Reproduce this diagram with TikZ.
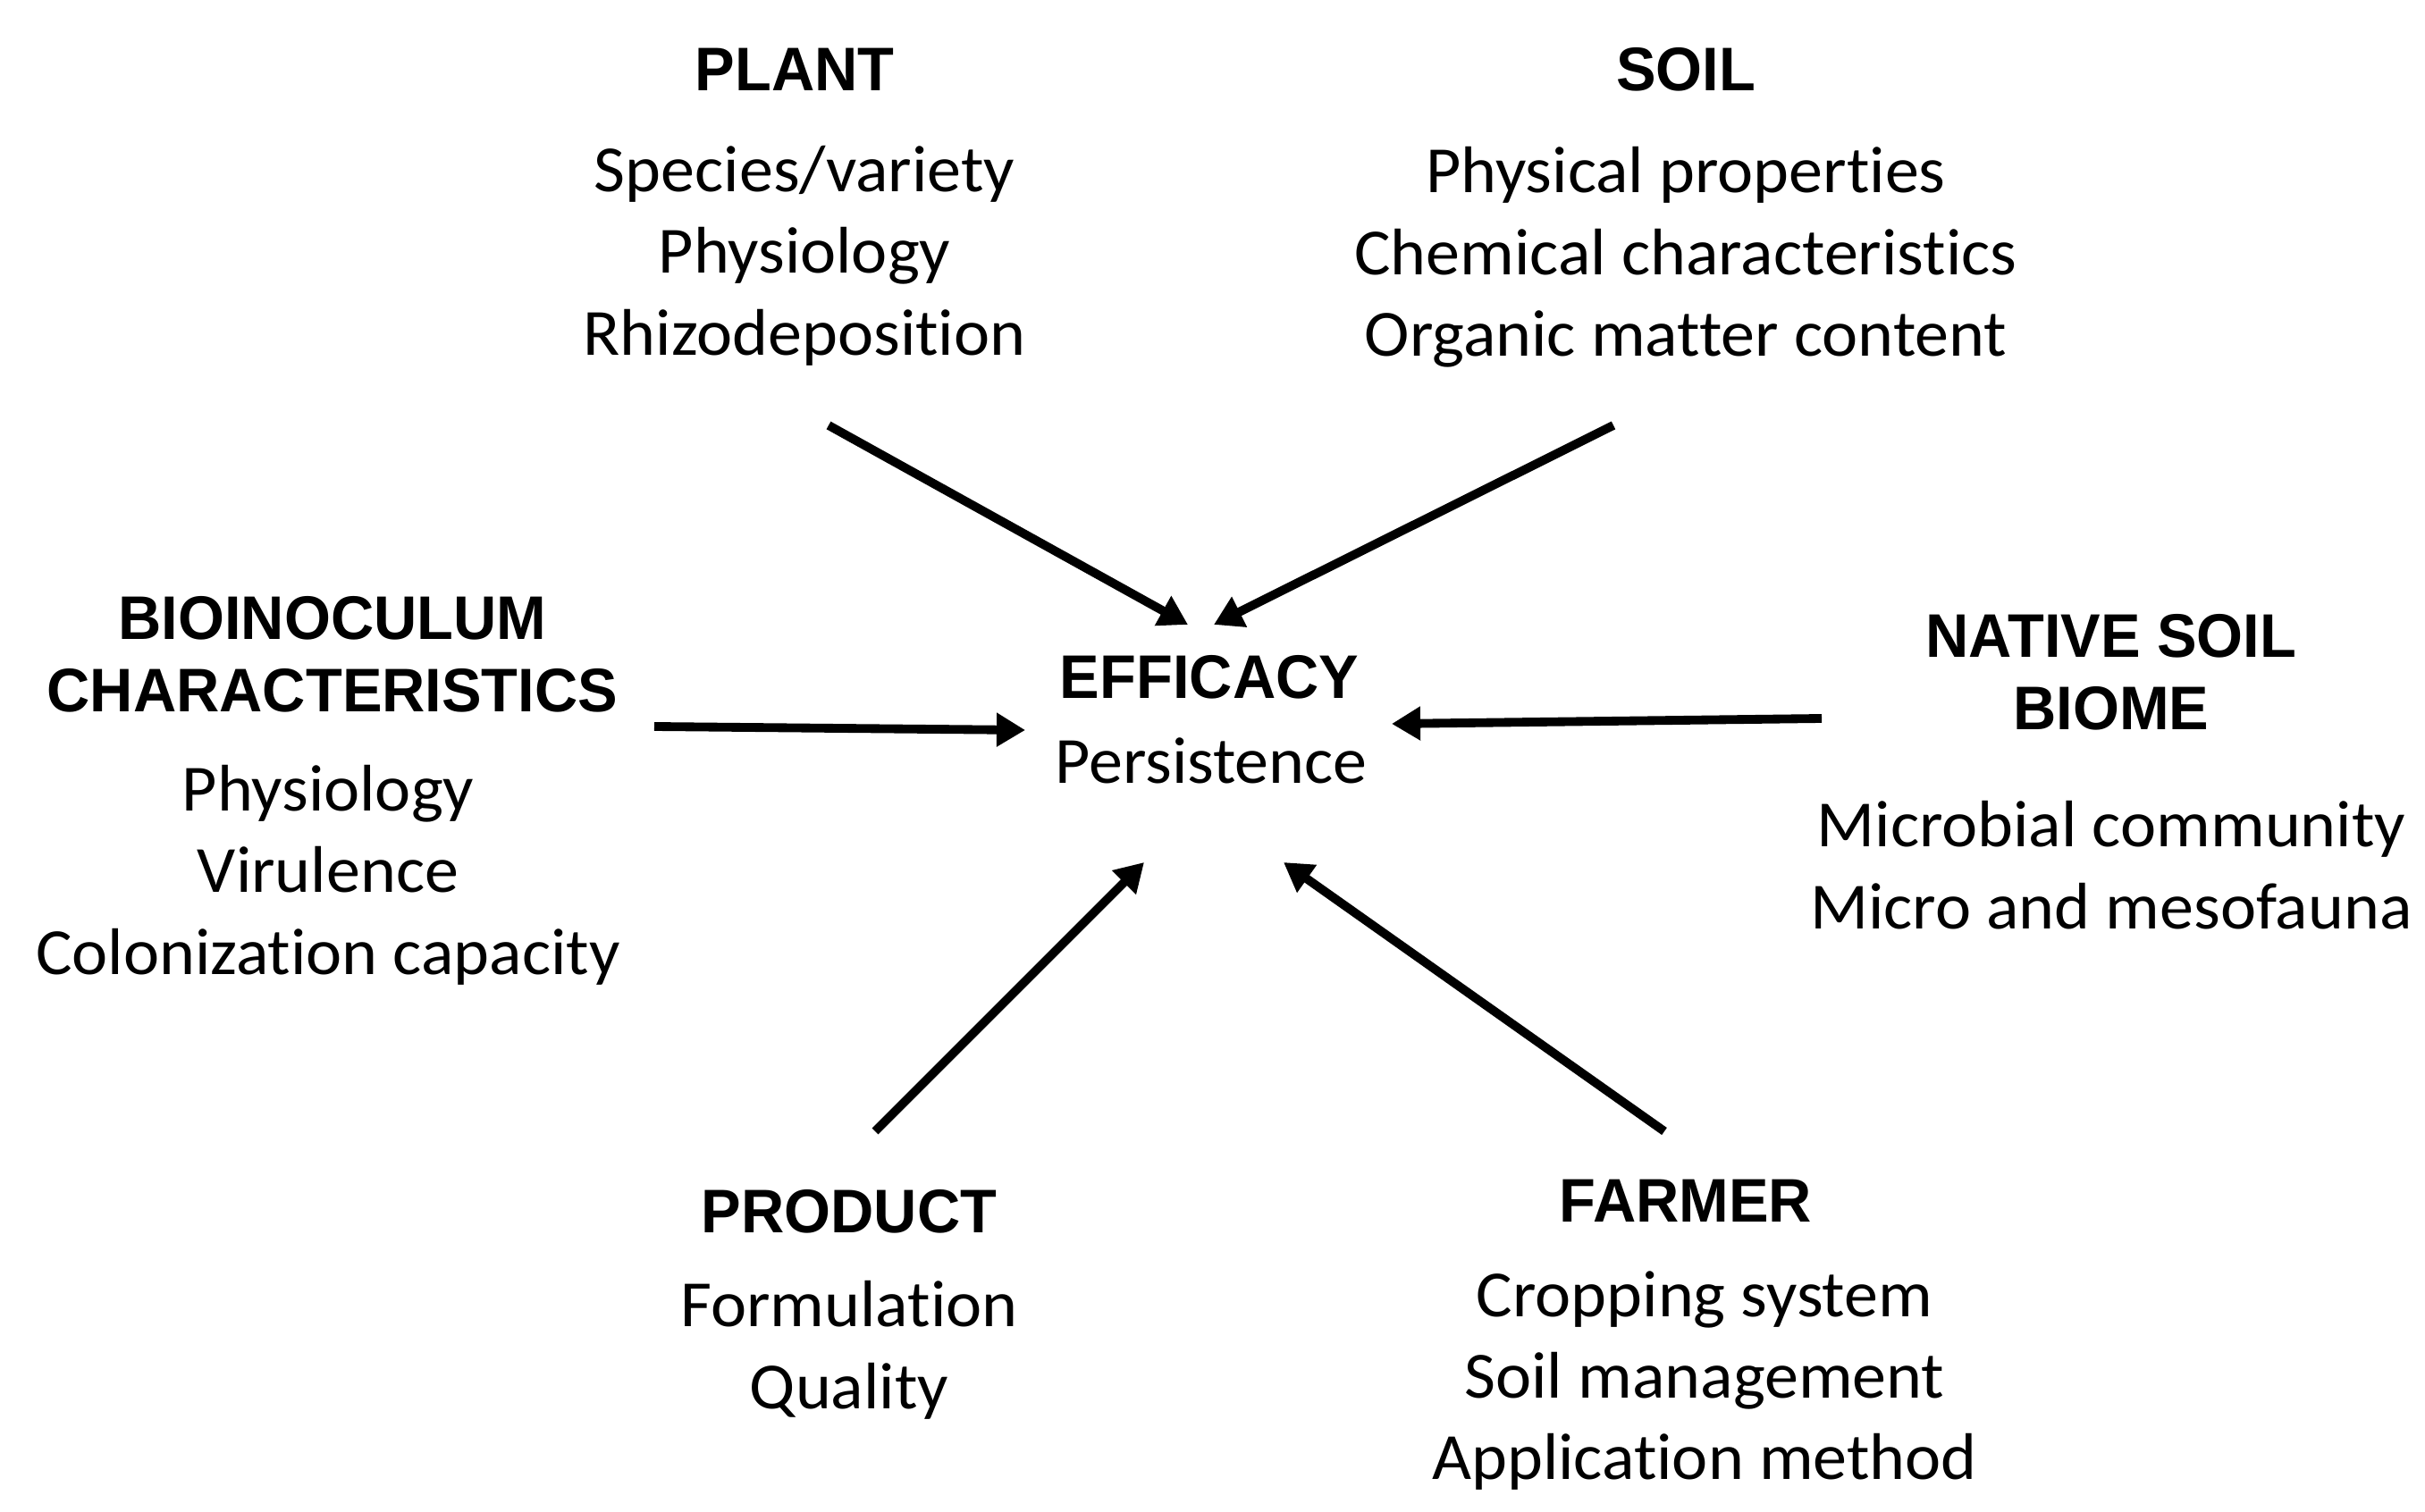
\documentclass[tikz,border=0pt]{standalone}
\usepackage{fontspec}
\setmainfont[Ligatures=NoCommon,FakeStretch=1.03]{Carlito}
\newfontfamily\headfont[FakeStretch=0.97]{Liberation Sans}
\usetikzlibrary{arrows.meta}

\begin{document}
\begin{tikzpicture}[
	head/.style={align=center, inner sep=0pt, font=\headfont\bfseries\fontsize{19.6}{23}\selectfont},
	items/.style={align=center, inner sep=0pt, font=\fontsize{21}{26}\selectfont},
	link/.style={line width=2.8pt, -{Triangle[length=0.32cm,width=0.36cm]}}]
			\useasboundingbox (0,0) rectangle (27.13,16.91);
			\node[head] (effhead) at (13.53,9.33) {EFFICACY};
			\node[items] (effbody) at (13.55,8.40) {Persistence};
			\node[head] (planthead) at (8.89,16.13) {PLANT};
			\node[items] (plantbody) at (9.00,14.05) {Species/variety\\Physiology\\Rhizodeposition};
			\node[head] (soilhead) at (18.86,16.13) {SOIL};
			\node[items] (soilbody) at (18.86,14.03) {Physical properties\\Chemical characteristics\\Organic matter content};
			\node[head] (biohead) at (3.72,9.59) {BIOINOCULUM\\CHARACTERISTICS};
			\node[items] (biobody) at (3.67,7.12) {Physiology\\Virulence\\Colonization capacity};
			\node[head] (nativehead) at (23.62,9.39) {NATIVE SOIL\\BIOME};
			\node[items] (nativebody) at (23.62,7.23) {Microbial community\\Micro and mesofauna};
			\node[head] (prodhead) at (9.50,3.35) {PRODUCT};
			\node[items] (prodbody) at (9.50,1.80) {Formulation\\Quality};
			\node[head] (farmhead) at (18.86,3.47) {FARMER};
			\node[items] (farmbody) at (19.07,1.46) {Cropping system\\Soil management\\Application method};
			\coordinate (plantfrom) at (9.27,12.15);
			\coordinate (plantto) at (13.29,9.92);
			\coordinate (soilfrom) at (18.05,12.15);
			\coordinate (soilto) at (13.58,9.92);
			\coordinate (biofrom) at (7.32,8.78);
			\coordinate (bioto) at (11.47,8.74);
			\coordinate (nativefrom) at (20.38,8.87);
			\coordinate (nativeto) at (15.57,8.81);
			\coordinate (prodfrom) at (9.79,4.25);
			\coordinate (prodto) at (12.80,7.26);
			\coordinate (farmfrom) at (18.62,4.25);
			\coordinate (farmto) at (14.36,7.26);
			\draw[link] (plantfrom) -- (plantto);
			\draw[link] (soilfrom) -- (soilto);
			\draw[link] (biofrom) -- (bioto);
			\draw[link] (nativefrom) -- (nativeto);
			\draw[link] (prodfrom) -- (prodto);
			\draw[link] (farmfrom) -- (farmto);
		\end{tikzpicture}
\end{document}
